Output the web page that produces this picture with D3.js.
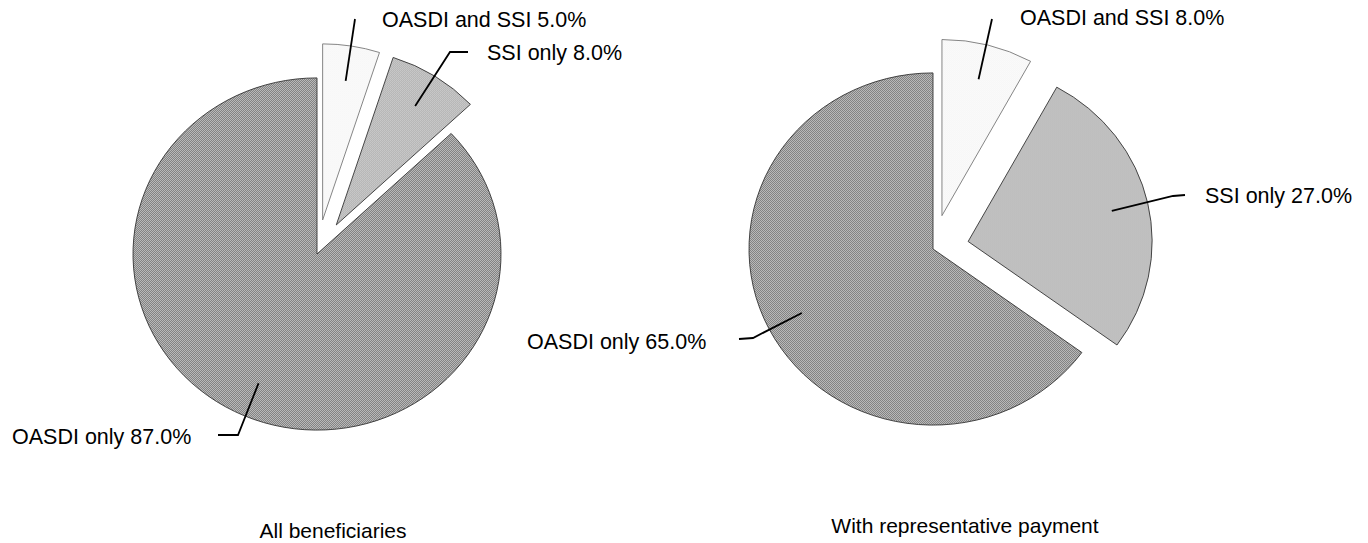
<!DOCTYPE html>
<html>
<head>
<meta charset="utf-8">
<script src="https://cdn.jsdelivr.net/npm/d3@7"></script>
<style>
  html, body { margin: 0; padding: 0; background: #fff; }
  svg { display: block; }
  text { font-family: "Liberation Sans", Arial, sans-serif; fill: #000; }
</style>
</head>
<body>
<svg id="chart" width="1368" height="543"></svg>
<script>
// data
var categories = ["OASDI and SSI", "SSI only", "OASDI only"];
var allBeneficiaries = [5.0, 8.0, 87.0];
var withRepPayment = [8.0, 27.0, 65.0];
var chartTitles = ["All beneficiaries", "With representative payment"];

var svg = d3.select("#chart");
var r = 184, squash = 0.957, explode = 36;

// halftone-ish fills, one per category
var fills = [
    {id: "f-both", dark: "#f4f4f4", light: "#fdfdfd"},
    {id: "f-ssi", dark: "#a6a6a6", light: "#d8d8d8"},
    {id: "f-oasdi", dark: "#7a7a7a", light: "#c2c2c2"}
];
var defs = svg.append("defs");
fills.forEach(function(f) {
    var p = defs.append("pattern").attr("id", f.id)
        .attr("patternUnits", "userSpaceOnUse")
        .attr("width", 2).attr("height", 2)
        .attr("patternTransform", "scale(1," + (1 / squash) + ")");
    p.append("rect").attr("width", 2).attr("height", 2).attr("fill", f.light);
    p.append("rect").attr("width", 1).attr("height", 1).attr("fill", f.dark);
    p.append("rect").attr("x", 1).attr("y", 1).attr("width", 1).attr("height", 1).attr("fill", f.dark);
});

var charts = [
    {values: allBeneficiaries, title: chartTitles[0], cx: 317, cy: 254, titleX: 333, titleY: 538,
     labels: [
        {x: 382, y: 27, path: [[355, 19]]},
        {x: 487, y: 60, path: [[450, 52], [468, 52]]},
        {x: 12, y: 444, path: [[238, 435], [218, 435]]}
     ]},
    {values: withRepPayment, title: chartTitles[1], cx: 933, cy: 249, titleX: 965, titleY: 533,
     labels: [
        {x: 1020, y: 25, path: [[992, 19]]},
        {x: 1205, y: 203, path: [[1173, 196], [1185, 195]]},
        {x: 527, y: 349, path: [[753, 338], [739, 339]]}
     ]}
];

var pie = d3.pie().sort(null).value(function(d) { return d; });
var arc = d3.arc().innerRadius(0).outerRadius(r);
var labelArc = d3.arc().innerRadius(r * 0.8).outerRadius(r * 0.8);

function offset(d, i) {
    var dist = i < 2 ? explode : 0;
    var mid = (d.startAngle + d.endAngle) / 2;
    return [Math.sin(mid) * dist, -Math.cos(mid) * dist];
}

charts.forEach(function(c) {
    var slices = pie(c.values);
    var g = svg.append("g")
        .attr("transform", "translate(" + c.cx + "," + c.cy + ") scale(1," + squash + ")");

    g.selectAll("path.slice")
        .data(slices)
      .enter().append("path")
        .attr("class", "slice")
        .attr("transform", function(d, i) { return "translate(" + offset(d, i) + ")"; })
        .attr("d", arc)
        .attr("fill", function(d, i) { return "url(#" + fills[i].id + ")"; })
        .attr("stroke", function(d, i) { return i === 0 ? "#777" : "#333"; })
        .attr("stroke-width", 0.9)
        .attr("vector-effect", "non-scaling-stroke");

    // leader lines, from 80% radius of each slice out to its label
    var line = d3.line();
    slices.forEach(function(d, i) {
        var o = offset(d, i), p = labelArc.centroid(d);
        var start = [c.cx + o[0] + p[0], c.cy + (o[1] + p[1]) * squash];
        svg.append("path")
            .attr("d", line([start].concat(c.labels[i].path)))
            .attr("fill", "none")
            .attr("stroke", "#000")
            .attr("stroke-width", 1.8);
        svg.append("text")
            .attr("x", c.labels[i].x).attr("y", c.labels[i].y)
            .attr("font-size", "21.5px")
            .text(categories[i] + " " + d.data.toFixed(1) + "%");
    });

    svg.append("text")
        .attr("x", c.titleX).attr("y", c.titleY)
        .attr("text-anchor", "middle")
        .attr("font-size", "21px")
        .text(c.title);
});
</script>
</body>
</html>
